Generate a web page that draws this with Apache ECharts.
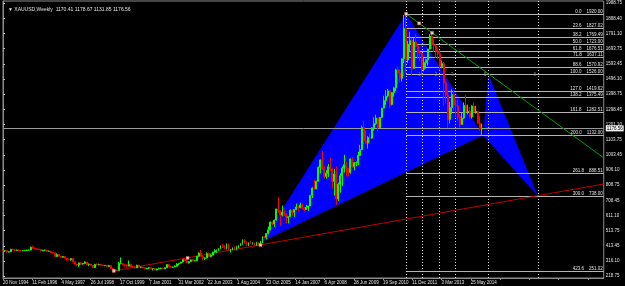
<!DOCTYPE html>
<html>
<head>
<meta charset="utf-8">
<script src="https://cdn.jsdelivr.net/npm/echarts@6/dist/echarts.min.js"></script>
<style>
html, body { margin: 0; background: #000; }
#main { width: 625px; height: 286px; }
</style>
</head>
<body>
<div id="main"></div>
<script>
// x axis runs in months since Nov 1994, labels every 64 weeks like the terminal does
var dateLabels = ['20 Nov 1994', '11 Feb 1996', '4 May 1997', '26 Jul 1998', '17 Oct 1999', '7 Jan 2001',
    '31 Mar 2002', '22 Jun 2003', '1 Aug 2004', '23 Oct 2005', '14 Jan 2007', '6 Apr 2008',
    '28 Jun 2009', '19 Sep 2010', '11 Dec 2011', '3 Mar 2013', '25 May 2014'];
var labelStep = 14.65;
var priceTicks = [218.75, 316.10, 413.45, 513.75, 611.10, 708.45, 808.75, 906.10, 1003.45, 1103.75,
    1201.10, 1298.45, 1398.75, 1496.10, 1593.45, 1693.75, 1791.10, 1888.40, 1988.75];

// last bar: open, high, low, close
var lastBar = [1170.41, 1178.67, 1131.85, 1176.56];

// monthly bars, rows are [open, close, low, high]
var bars1994_1998 = [
    [384,383,380,389],[383,383,375,386],
    [383,375,371,384],[375,376,372,379],[376,391,374,396],[391,389,385,396],[389,385,383,391],[385,387,383,391],
    [387,383,381,390],[383,382,380,388],[382,383,381,386],[383,383,381,387],[383,387,382,390],[387,387,383,390],
    [387,405,386,410],[405,400,396,416],[400,396,393,403],[396,392,390,397],[392,391,388,396],[391,382,380,392],
    [382,386,380,389],[386,387,384,390],[387,379,377,388],[379,379,376,384],[379,371,368,382],[371,369,365,374],
    [369,345,343,370],[345,358,342,366],[358,348,346,359],[348,340,338,349],[340,345,337,348],[345,334,333,346],
    [334,326,318,336],[326,325,320,332],[325,332,318,335],[332,311,307,335],[311,296,293,313],[296,290,283,298],
    [290,304,278,306],[304,297,290,307],[297,301,292,303],[301,310,298,315],[310,293,290,310],[293,296,284,300],
    [296,289,286,298],[289,273,271,291],[273,294,272,298],[294,292,288,301],[292,294,290,299],[294,288,283,297]
];
var bars1999_2003 = [
    [288,287,283,293],[287,287,282,290],[287,280,277,290],[280,286,278,291],[286,268,266,290],[268,261,257,268],
    [261,255,252,264],[255,254,252,260],[254,299,253,310],[299,299,296,339],[299,292,287,300],[292,290,279,293],
    [290,283,280,294],[283,293,282,320],[293,277,275,298],[277,275,274,286],[275,272,270,282],[272,289,271,292],
    [289,276,275,292],[276,277,270,279],[277,273,270,278],[273,265,263,273],[265,270,263,272],[270,273,265,276],
    [273,266,263,275],[266,267,255,270],[267,258,256,268],[258,264,255,267],[264,267,262,274],[267,270,263,273],
    [270,266,264,272],[266,273,264,276],[273,293,271,294],[293,279,276,294],[279,275,272,283],[275,277,271,280],
    [277,282,277,288],[282,297,281,302],[297,302,289,304],[302,309,300,311],[309,326,307,328],[326,318,316,332],
    [318,304,302,322],[304,312,300,315],[312,324,311,326],[324,317,313,327],[317,318,314,322],[318,347,317,349],
    [347,367,343,372],[367,347,345,388],[347,334,320,353],[334,336,322,340],[336,364,333,372],[364,346,342,371],
    [346,354,341,361],[354,375,354,376],[375,385,370,393],[385,386,369,392],[386,398,380,399],[398,416,395,417]
];
var bars2004_2008 = [
    [416,402,401,427],[402,396,394,418],[396,427,391,430],[427,387,384,430],[387,394,371,395],[394,394,386,404],
    [394,391,385,411],[391,409,386,415],[409,416,399,419],[416,429,414,433],[429,453,422,456],[453,438,430,457],
    [438,422,414,443],[422,435,413,437],[435,428,425,447],[428,435,423,437],[435,417,413,435],[417,437,414,441],
    [437,430,418,438],[430,433,428,447],[433,473,432,476],[473,470,463,478],[470,495,456,497],[495,517,489,540],
    [517,569,516,572],[569,556,548,574],[556,582,537,585],[582,654,580,655],[654,643,630,730],[643,614,543,644],
    [614,633,605,676],[633,624,610,652],[624,599,560,626],[599,604,560,606],[604,646,602,651],[646,632,608,647],
    [632,650,603,650],[650,665,646,689],[665,662,637,674],[662,679,659,694],[679,659,651,689],[659,650,640,667],
    [650,665,648,680],[665,673,642,675],[673,743,672,745],[743,789,725,795],[789,783,780,845],[783,834,781,838],
    [834,923,833,930],[923,972,885,975],[972,916,907,1030],[916,865,851,931],[865,886,850,905],[886,928,862,945],
    [928,913,900,988],[913,833,786,917],[833,880,740,912],[880,718,681,930],[718,814,705,825],[814,869,760,885]
];
var bars2009_2014 = [
    [869,919,804,930],[919,942,890,1005],[942,916,865,960],[916,891,866,917],[891,978,882,982],[978,927,920,990],
    [927,954,905,959],[954,955,931,962],[955,1001,938,1024],[1001,1040,1000,1070],[1040,1182,1036,1195],[1182,1096,1075,1227],
    [1096,1081,1076,1162],[1081,1118,1045,1127],[1118,1113,1088,1145],[1113,1180,1110,1185],[1180,1207,1160,1249],[1207,1244,1199,1265],
    [1244,1181,1157,1246],[1181,1248,1175,1250],[1248,1308,1242,1311],[1308,1357,1308,1388],[1357,1386,1330,1424],[1386,1420,1377,1432],
    [1420,1332,1308,1424],[1332,1409,1325,1411],[1409,1439,1383,1447],[1439,1556,1420,1564],[1556,1536,1463,1577],[1536,1502,1478,1560],
    [1502,1628,1480,1632],[1628,1825,1601,1912],[1825,1620,1532,1920],[1620,1722,1600,1745],[1722,1746,1675,1804],[1746,1565,1522,1763],
    [1565,1737,1563,1764],[1737,1710,1703,1790],[1710,1668,1628,1720],[1668,1664,1612,1677],[1664,1561,1527,1666],[1561,1604,1546,1641],
    [1604,1622,1564,1630],[1622,1692,1583,1692],[1692,1776,1687,1788],[1776,1719,1692,1796],[1719,1713,1672,1754],[1713,1675,1635,1723],
    [1675,1663,1626,1697],[1663,1578,1555,1684],[1578,1597,1565,1617],[1597,1472,1321,1607],[1472,1392,1338,1487],[1392,1234,1180,1424],
    [1234,1312,1208,1348],[1312,1396,1271,1433],[1396,1327,1292,1424],[1327,1323,1251,1361],[1323,1253,1221,1361],[1253,1202,1182,1267],
    [1202,1244,1202,1280],[1244,1326,1238,1345],[1326,1283,1277,1392],[1283,1288,1268,1331],[1288,1250,1240,1315],[1250,1322,1240,1326],
    [1322,1282,1281,1345],[1282,1287,1272,1323],[1287,1210,1204,1287],[1210,1172,1161,1255],[1172,1176.56,1131.85,1208]
];

// fibonacci retracement 1920 -> 1526
var fibLevels = ['0.0', '23.6', '38.2', '50.0', '61.8', '71.8', '88.6', '100.0', '127.0', '138.2', '161.8', '200.0', '261.8', '300.0', '423.6'];
var fibPrices = [1920.00, 1827.02, 1769.49, 1723.00, 1676.51, 1637.11, 1570.92, 1526.00, 1419.62, 1375.49, 1282.51, 1132.00, 888.51, 738.00, 251.02];
var fibStart = 202;
var axisEnd = 301;

// fibonacci time zones
var timeZones = [202, 210.25, 218.5, 226.75, 243.25, 268];
var timeZoneNames = ['0', '1', '2', '3', '5', '8'];

// harmonic pattern points [month, price]
var ptX = [129.5, 440];
var ptA = [202, 1920];
var ptB = [240.5, 1132];
var ptC = [243.25, 1526];
var ptD = [268, 738];

var greenLine = [[202, 1920], [301, 985]];
var greenHandles = [[202, 1920], [208.5, 1858], [215, 1796]];
var redLine = [[55.5, 252], [301, 816]];
var redHandles = [[55.5, 252], [92.5, 336], [129, 420]];

var chart = echarts.init(document.getElementById('main'));

var allBars = bars1994_1998.concat(bars1999_2003, bars2004_2008, bars2009_2014);
var candleData = [];
for (var i = 0; i < allBars.length; i++) {
    var b = allBars[i];
    candleData.push([i, b[0], b[1], b[2], b[3]]);
}

var fibLines = [];
for (var j = 0; j < fibLevels.length; j++) {
    fibLines.push([
        { coord: [fibStart, fibPrices[j]], name: fibLevels[j] + '    ' + fibPrices[j].toFixed(2) },
        { coord: [axisEnd, fibPrices[j]] }
    ]);
}

var zoneLines = timeZones.map(function (m) { return { xAxis: m }; });
var zoneMarks = timeZones.map(function (m, k) { return { value: [m - 1.6, ptC[1]], name: timeZoneNames[k] }; });

var triangles = [
    ptX.concat(ptA, ptB),
    ptB.concat(ptC, ptD)
];

var fontFam = 'Liberation Sans';

var option = {
    backgroundColor: '#000',
    animation: false,
    title: {
        text: '\u25BC XAUUSD,Weekly  ' + lastBar.map(function (v) { return v.toFixed(2); }).join(' '),
        left: 3,
        top: 2,
        textStyle: { color: '#e0e0e0', fontSize: 5, fontWeight: 'normal', fontFamily: fontFam }
    },
    grid: {
        left: 2, right: 21, top: 1, bottom: 8,
        show: true, borderColor: '#8c8c8c', borderWidth: 1
    },
    xAxis: {
        type: 'value',
        min: 0,
        max: axisEnd,
        interval: labelStep,
        axisLine: { lineStyle: { color: '#8c8c8c' } },
        axisTick: { show: true, length: 2, lineStyle: { color: '#8c8c8c' } },
        splitLine: { show: false },
        axisLabel: {
            color: '#e0e0e0', fontSize: 4.5, fontFamily: fontFam, margin: 2, align: 'left',
            showMaxLabel: false,
            formatter: function (v) {
                var k = Math.round(v / labelStep);
                return dateLabels[k] || '';
            }
        }
    },
    yAxis: {
        type: 'value',
        position: 'right',
        min: 206,
        max: 2003,
        axisLine: { show: true, lineStyle: { color: '#8c8c8c' } },
        axisTick: { show: true, length: 2, lineStyle: { color: '#c0c0c0' }, customValues: priceTicks },
        splitLine: { show: false },
        axisLabel: {
            color: '#e0e0e0', fontSize: 4.5, fontFamily: fontFam, margin: 2,
            customValues: priceTicks,
            formatter: function (v) { return v.toFixed(2); }
        }
    },
    series: [
        {
            name: 'pattern',
            type: 'custom',
            z: 1,
            encode: { x: [0, 2, 4], y: [1, 3, 5] },
            renderItem: function (params, api) {
                var pts = [];
                for (var k = 0; k < 3; k++) {
                    pts.push(api.coord([api.value(k * 2), api.value(k * 2 + 1)]));
                }
                return { type: 'polygon', shape: { points: pts }, style: { fill: '#0000ff' } };
            },
            data: triangles
        },
        {
            name: 'levels',
            type: 'line',
            z: 2,
            data: [],
            markLine: {
                z: 2,
                silent: true,
                symbol: 'none',
                animation: false,
                lineStyle: { color: '#b4b4b4', width: 1, type: 'solid' },
                label: {
                    show: true,
                    position: 'insideEndTop',
                    distance: [1, 0],
                    color: '#e0e0e0',
                    fontSize: 4.5,
                    fontFamily: fontFam,
                    formatter: '{b}'
                },
                data: fibLines.concat([{
                    yAxis: lastBar[3],
                    lineStyle: { color: '#9a9a9a', width: 1, type: 'solid' },
                    label: {
                        position: 'end', distance: 2, formatter: lastBar[3].toFixed(2),
                        color: '#000', backgroundColor: '#f0f0f0', padding: [1, 1, 0, 1], fontSize: 4.5
                    }
                }])
            }
        },
        {
            name: 'zones',
            type: 'line',
            z: 2,
            data: [],
            markLine: {
                z: 2,
                silent: true,
                symbol: 'none',
                animation: false,
                lineStyle: { color: '#d8d8d8', width: 1, type: [1, 2] },
                label: { show: false },
                data: zoneLines
            }
        },
        {
            name: 'zoneMarks',
            type: 'scatter',
            z: 3,
            symbolSize: 0,
            label: {
                show: true, position: 'inside', formatter: '{b}',
                color: '#9a9a9a', fontSize: 4.5, fontFamily: fontFam
            },
            data: zoneMarks
        },
        {
            name: 'green',
            type: 'line',
            z: 3,
            symbol: 'none',
            lineStyle: { color: '#00a000', width: 1 },
            data: greenLine
        },
        {
            name: 'red',
            type: 'line',
            z: 3,
            symbol: 'none',
            lineStyle: { color: '#c00000', width: 1 },
            data: redLine
        },
        {
            name: 'xauusd',
            type: 'candlestick',
            z: 4,
            encode: { x: 0, y: [1, 2, 3, 4] },
            barWidth: 1.4,
            itemStyle: {
                color: '#00ff00', color0: '#ff0000',
                borderColor: '#00ff00', borderColor0: '#ff0000', borderWidth: 1
            },
            data: candleData
        },
        {
            name: 'handles',
            type: 'scatter',
            z: 5,
            symbol: 'rect',
            symbolSize: 3,
            itemStyle: { color: '#ffffff', borderColor: '#ff6060', borderWidth: 0.5 },
            data: greenHandles.concat(redHandles)
        }
    ]
};

chart.setOption(option);
</script>
</body>
</html>
